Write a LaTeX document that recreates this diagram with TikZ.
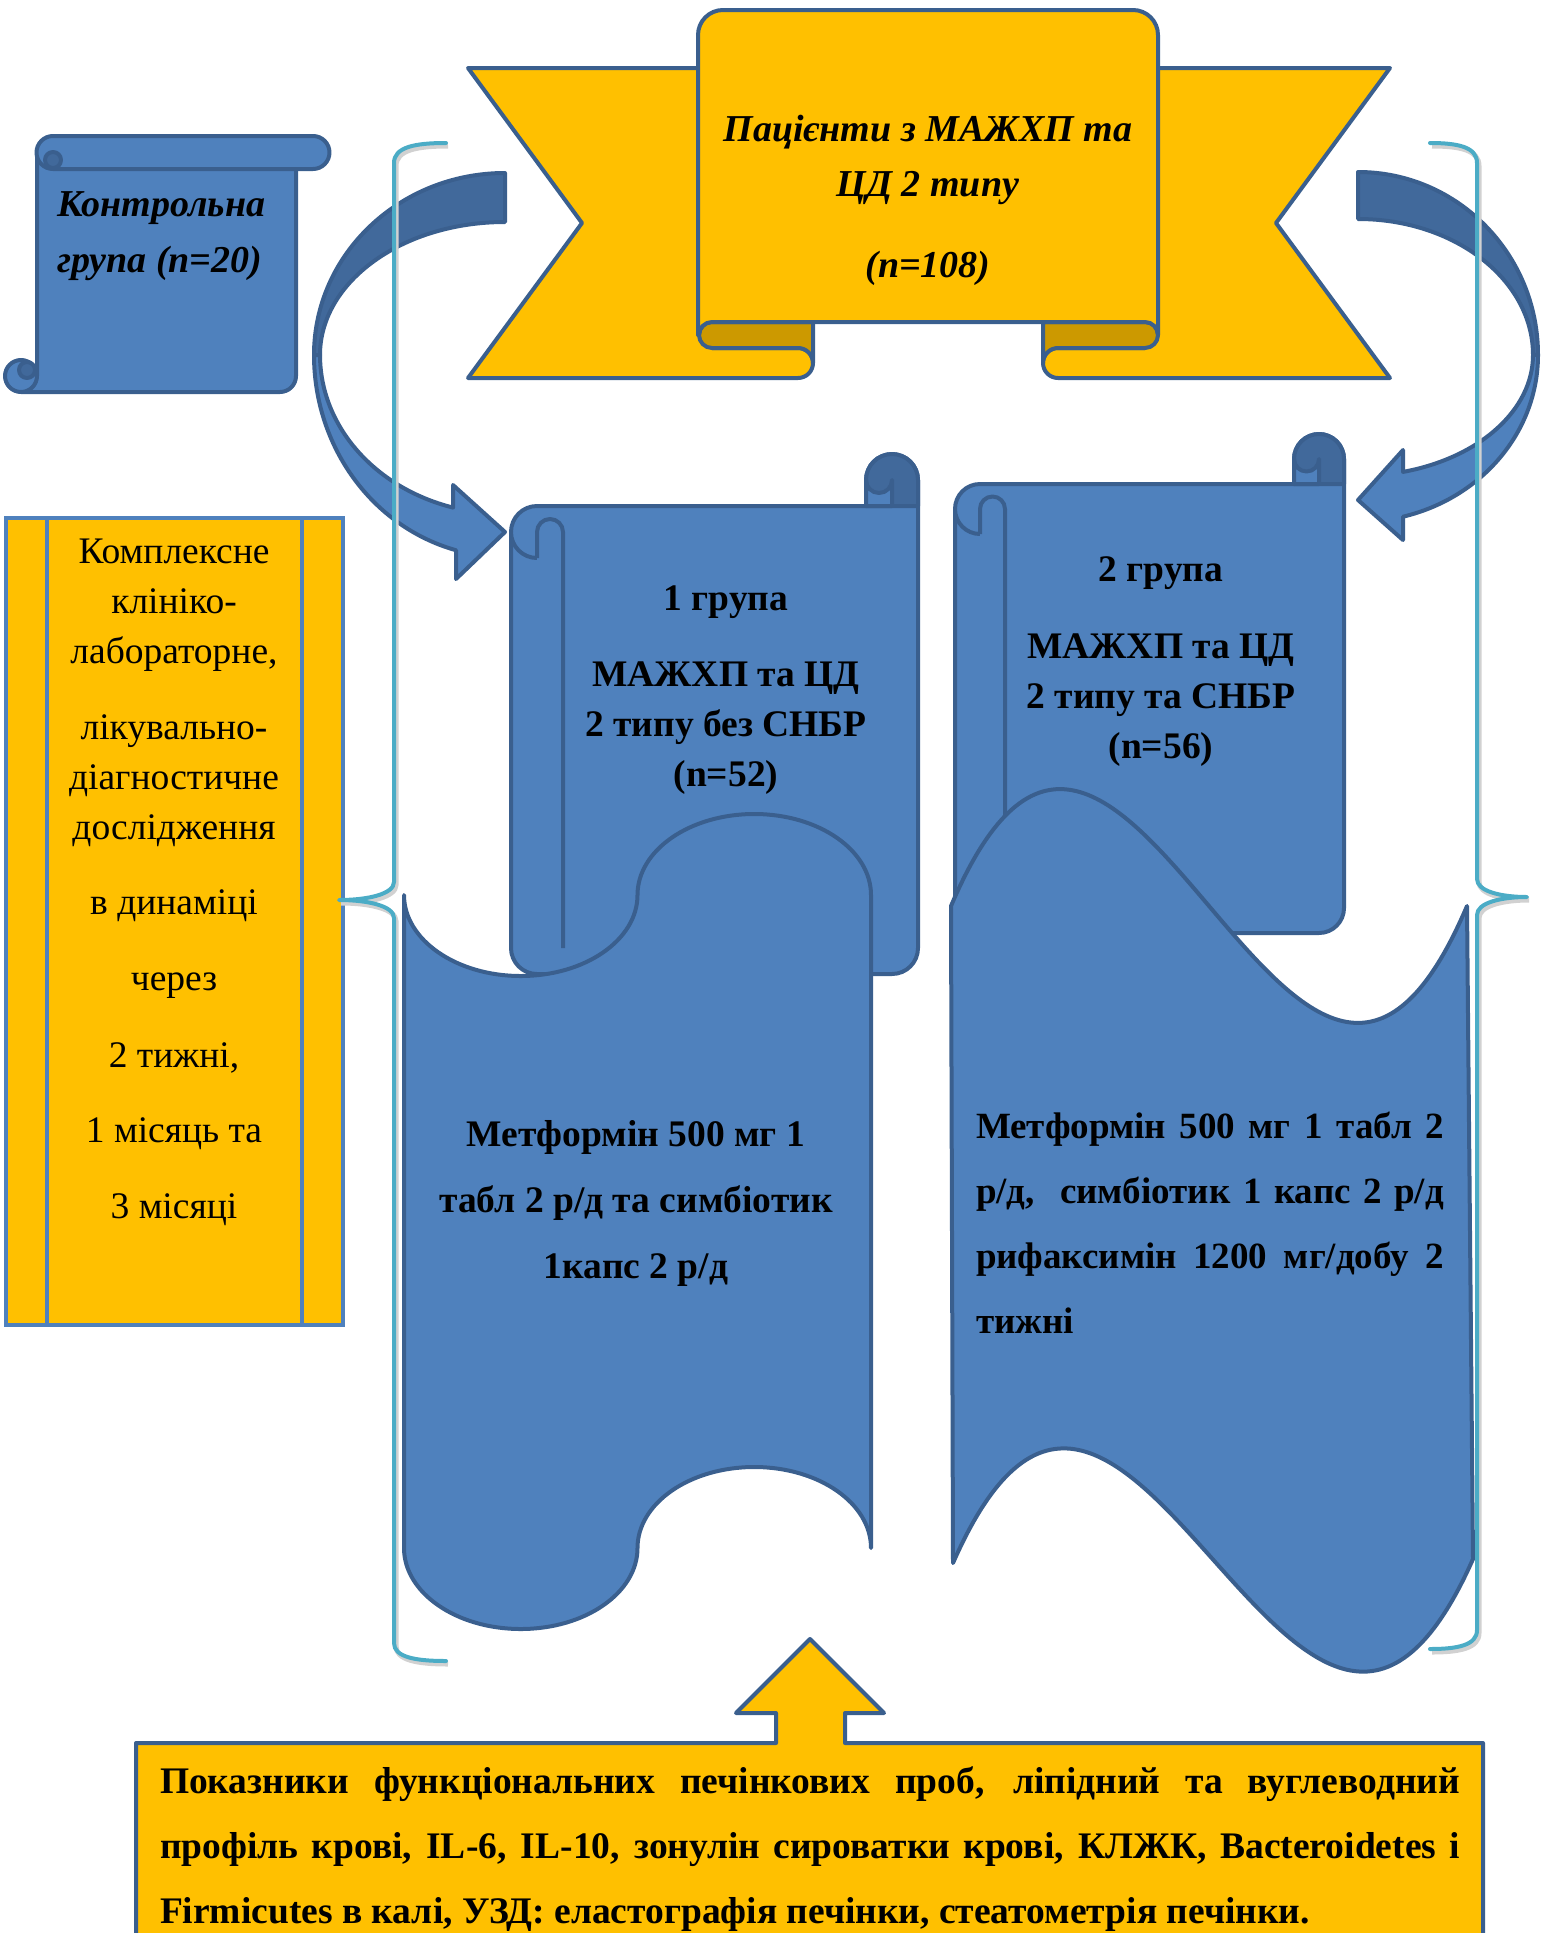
\documentclass[tikz,border=0pt]{standalone}
\usepackage{fontspec}
\setmainfont{Liberation Serif}
\usepackage{tikz}
\definecolor{scrollblue}{HTML}{4F81BD}
\definecolor{edgeblue}{HTML}{3A5F8E}
\definecolor{rollblue}{HTML}{41699B}
\definecolor{ribbongold}{HTML}{FFC000}
\definecolor{folddark}{HTML}{CC9900}
\definecolor{bracecyan}{HTML}{4BACC6}

\newcommand{\vertscroll}[5]{%
  \pgfmathsetmacro{\scrollhalf}{#5/2}
  \pgfmathsetmacro{\scrollquart}{#5/4}
  \filldraw[scroll] (#1,#3+#5+\scrollhalf) arc[start angle=180,end angle=270,radius=\scrollhalf]
    -- (#2-#5,#3+#5) -- (#2-#5,#3+\scrollhalf) arc[start angle=180,end angle=360,radius=\scrollhalf]
    -- (#2,#4-\scrollhalf) arc[start angle=0,end angle=90,radius=\scrollhalf]
    -- (#1+\scrollhalf,#4) arc[start angle=90,end angle=180,radius=\scrollhalf] -- cycle;
  \filldraw[scroll,fill=rollblue] (#2-#5,#3+#5) -- (#2-#5,#3+\scrollhalf)
    arc[start angle=180,end angle=360,radius=\scrollhalf] -- (#2,#3+#5) -- cycle;
  \filldraw[scroll] (#2-#5,#3+\scrollhalf) arc[start angle=180,end angle=0,radius=\scrollquart]
    -- (#2-\scrollhalf,#3+#5) -- (#2-#5,#3+#5) -- cycle;
  \fill[rollblue] (#1+\scrollhalf,#3+#5+\scrollhalf) -- (#1+#5,#3+#5+\scrollhalf)
    arc[start angle=0,end angle=90,radius=\scrollhalf] -- cycle;
  \draw[scroll] (#1,#3+#5+\scrollhalf) arc[start angle=180,end angle=0,radius=\scrollhalf];
  \draw[scroll] (#1+\scrollhalf,#3+#5+#5) -- (#1+\scrollhalf,#3+#5+\scrollhalf)
    arc[start angle=180,end angle=360,radius=\scrollquart] -- (#1+#5,#4-\scrollhalf);
}

\begin{document}
\begin{tikzpicture}[x=1pt,y=-1pt,
    scroll/.style={draw=edgeblue,fill=scrollblue,line width=4,line join=round},
    goldshape/.style={draw=edgeblue,fill=ribbongold,line width=4,line join=round},
    fold/.style={draw=edgeblue,fill=folddark,line width=4,line join=round},
    arrowback/.style={draw=edgeblue,fill=rollblue,line width=4,line join=round},
    arrowfront/.style={draw=edgeblue,fill=scrollblue,line width=4,line join=round},
    bracket/.style={draw=bracecyan,line width=4,line cap=round,line join=round,
      preaction={draw=black!18,line width=5,transform canvas={shift={(2pt,-3pt)}}}},
    txt/.style={inner sep=0pt,text=black}]
  \useasboundingbox (0,0) rectangle (1543,1933);
  \clip (0,0) rectangle (1543,1933);

  % ribbon
  \filldraw[goldshape] (468,68) -- (712,68) -- (712,348) -- (798,348)
    arc[start angle=270,end angle=450,radius=15] -- (468,378) -- (582,223) -- cycle;
  \filldraw[goldshape] (1390,68) -- (1145,68) -- (1145,348) -- (1058,348)
    arc[start angle=270,end angle=90,radius=15] -- (1390,378) -- (1276,223) -- cycle;
  \filldraw[fold] (813,322) -- (712,322) arc[start angle=270,end angle=90,radius=13]
    -- (798,348) arc[start angle=270,end angle=360,radius=15] -- cycle;
  \filldraw[fold] (1043,322) -- (1145,322) arc[start angle=270,end angle=450,radius=13]
    -- (1058,348) arc[start angle=270,end angle=180,radius=15] -- cycle;
  \filldraw[goldshape] (698,335) -- (698,35) arc[start angle=180,end angle=270,radius=25]
    -- (1133,10) arc[start angle=270,end angle=360,radius=25] -- (1158,335)
    arc[start angle=0,end angle=-90,radius=13] -- (712,322)
    arc[start angle=270,end angle=180,radius=13] -- cycle;
  \node[txt,font=\fontsize{38}{55}\selectfont\bfseries\itshape,align=center] (patients) at (928,200)
    {Пацієнти з МАЖХП та\\ЦД 2 типу\\[26pt](n=108)};

  % control group
  \filldraw[scroll] (37,152) -- (37,376) -- (21,376) -- (21,392) -- (280,392)
    arc[start angle=90,end angle=0,radius=16] -- (296,152) -- cycle;
  \filldraw[scroll] (53,136) -- (313,136) arc[start angle=270,end angle=450,radius=16.5]
    -- (53,169) arc[start angle=90,end angle=270,radius=16.5] -- cycle;
  \filldraw[scroll,fill=rollblue] (53,160) circle[radius=8];
  \filldraw[scroll] (21,376) circle[radius=16];
  \filldraw[scroll,fill=rollblue] (27,370) circle[radius=8];
  \node[txt,font=\fontsize{38}{56}\selectfont\bfseries\itshape,align=left,anchor=west] (control) at (57,236)
    {Контрольна\\група (n=20)};

  % curved arrows
  \filldraw[arrowback] (505,173) arc[start angle=270,end angle=180,x radius=191,y radius=182]
    -- (320,355) arc[start angle=180,end angle=270,x radius=185,y radius=133] -- cycle;
  \filldraw[arrowfront] (314,355) arc[start angle=180,end angle=104.86,x radius=191,y radius=202]
    -- (456,579) -- (505,532) -- (453,485) -- (453.1,507.6)
    arc[start angle=106.3,end angle=180,x radius=185,y radius=159] -- cycle;
  \filldraw[arrowback] (1358,172) arc[start angle=270,end angle=360,x radius=180,y radius=183]
    -- (1533,355) arc[start angle=0,end angle=-90,x radius=175,y radius=136] -- cycle;
  \filldraw[arrowfront] (1538,355) arc[start angle=0,end angle=75.5,x radius=180,y radius=167]
    -- (1403,540) -- (1358,500) -- (1403,450) -- (1403,471.9)
    arc[start angle=75.1,end angle=0,x radius=175,y radius=121] -- cycle;

  % examination box
  \filldraw[draw=scrollblue,fill=ribbongold,line width=4.5] (6,518) rectangle (343,1325);
  \draw[scrollblue,line width=4.5] (47,518) -- (47,1325) (302,518) -- (302,1325);
  \node[txt,font=\fontsize{37.5}{50}\selectfont,align=center] (exam) at (174,882)
    {Комплексне\\клініко-\\лабораторне,\\[26pt]лікувально-\\діагностичне\\дослідження\\[25pt]в динаміці\\[26pt]через\\[27pt]2 тижні,\\[25pt]1 місяць та\\[26pt]3 місяці};

  % groups
  \vertscroll{511}{918}{454}{974}{52}
  \vertscroll{955}{1344}{434}{933}{50}
  \node[txt,font=\fontsize{37.5}{50}\selectfont\bfseries,align=center] (group1) at (726,690)
    {1 група\\[26pt]МАЖХП та ЦД\\2 типу без СНБР\\(n=52)};
  \node[txt,font=\fontsize{37.5}{50}\selectfont\bfseries,align=center] (group2) at (1161,662)
    {2 група\\[27pt]МАЖХП та ЦД\\2 типу та СНБР\\(n=56)};

  % treatment
  \filldraw[scroll] (404,895) arc[start angle=180,end angle=0,x radius=116.75,y radius=81]
    arc[start angle=180,end angle=360,x radius=116.75,y radius=81] -- (871,1548)
    arc[start angle=0,end angle=-180,x radius=116.75,y radius=81]
    arc[start angle=0,end angle=180,x radius=116.75,y radius=81] -- cycle;
  \filldraw[scroll] (951,906) .. controls (1123,501) and (1295,1311) .. (1467,906)
    -- (1473,1559) .. controls (1300,1949) and (1126,1169) .. (953,1563) -- cycle;
  \node[txt,font=\fontsize{37.5}{66}\selectfont\bfseries,align=center] (therapy1) at (636,1203)
    {Метформін 500 мг 1\\табл 2 р/д та симбіотик\\1капс 2 р/д};
  \node[txt,font=\fontsize{37}{65}\selectfont\bfseries,align=left] (therapy2) at (1210,1223)
    {\makebox[468pt][s]{Метформін 500 мг 1 табл 2}\\
     \makebox[468pt][s]{р/д,\ \ симбіотик 1 капс 2 р/д}\\
     \makebox[468pt][s]{рифаксимін 1200 мг/добу 2}\\
     тижні};

  % brackets
  \draw[bracket] (446,143) .. controls (415,143) and (394,147) .. (394,163) -- (394,882)
    .. controls (394,894) and (368,900) .. (339,900) .. controls (368,900) and (394,906) .. (394,918)
    -- (394,1643) .. controls (394,1657) and (415,1661) .. (446,1661);
  \draw[bracket] (1430,143) .. controls (1458,143) and (1477,147) .. (1477,163) -- (1477,879)
    .. controls (1477,891) and (1500,897) .. (1527,897) .. controls (1500,897) and (1477,903) .. (1477,915)
    -- (1477,1630) .. controls (1477,1645) and (1458,1649) .. (1430,1649);

  % indices
  \filldraw[goldshape] (136,1743) -- (776,1743) -- (776,1713) -- (736,1713) -- (810,1639)
    -- (884,1713) -- (845,1713) -- (845,1743) -- (1483,1743) -- (1483,1960) -- (136,1960) -- cycle;
  \node[txt,font=\fontsize{37.5}{65}\selectfont\bfseries,align=left] (indices) at (810,1849)
    {\makebox[1300pt][s]{Показники функціональних печінкових проб, ліпідний та вуглеводний}\\
     \makebox[1300pt][s]{профіль крові, IL-6, IL-10, зонулін сироватки крові, КЛЖК, Bacteroidetes і}\\
     Firmicutes в калі, УЗД: еластографія печінки, стеатометрія печінки.};
\end{tikzpicture}
\end{document}
